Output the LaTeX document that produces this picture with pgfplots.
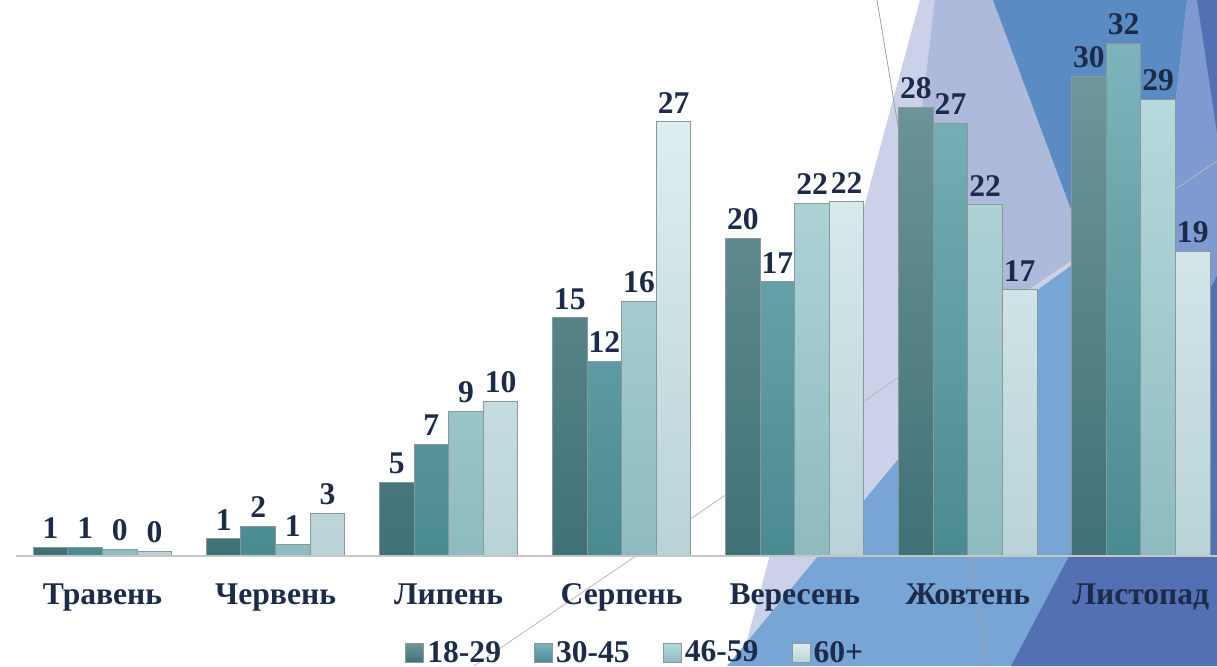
\documentclass[border=0pt]{standalone}
\usepackage{pgfplots}
\pgfplotsset{compat=1.18}
\usepackage{fontspec}
\setmainfont{Liberation Serif}

\definecolor{txt}{HTML}{1D2B4A}
\definecolor{edge}{HTML}{8C979A}
\definecolor{s1t}{HTML}{6E969B}\definecolor{s1b}{HTML}{3F7176}
\definecolor{s2t}{HTML}{7DB4BB}\definecolor{s2b}{HTML}{4A8A91}
\definecolor{s3t}{HTML}{B6D9DD}\definecolor{s3b}{HTML}{8DBBC0}
\definecolor{s4t}{HTML}{DDEEF0}\definecolor{s4b}{HTML}{B8D3D7}
% background shapes of the slide
\definecolor{bgLL}{HTML}{CAD1E8}
\definecolor{bgML}{HTML}{AEBADC}
\definecolor{bgLB}{HTML}{78A5D6}
\definecolor{bgB}{HTML}{5A8BC3}
\definecolor{bgLV}{HTML}{7E9AD0}
\definecolor{bgDV}{HTML}{5470B5}

\newcommand\lab{\fontsize{15.8}{18}\selectfont\bfseries}

\begin{document}
\begin{tikzpicture}
\useasboundingbox (0,0) rectangle (608.5pt,333pt);
\begin{scope}[x=0.5pt,y=0.5pt]
\fill[bgLL] (920,666) -- (1217,666) -- (1217,0) -- (740,0) -- cycle;
\fill[bgML] (935,666) -- (1217,666) -- (1217,505) -- (1000,358) -- (905,416) -- cycle;
\fill[bgLB] (727,0) -- (1040,378) -- (1217,505) -- (1217,0) -- cycle;
\fill[bgB] (993,666) -- (1187,666) -- (1142,266) -- cycle;
\fill[bgLV] (1187,666) -- (1217,666) -- (1217,0) -- (1142,266) -- cycle;
\fill[bgDV] (1197,666) -- (1217,666) -- (1217,533) -- cycle;
\fill[bgDV] (1011,0) -- (1217,0) -- (1217,390) -- cycle;
\draw[gray!75, line width=0.4pt] (877,666) -- (988,0);
\draw[gray!55, line width=0.4pt] (474,0) -- (1217,505);
\end{scope}

\begin{axis}[
  at={(8pt,55pt)}, anchor=south west,
  scale only axis, width=600.5pt, height=278pt,
  xmin=-0.5, xmax=6.44, ymin=0, ymax=34.69,
  ybar=0pt, bar width=0.2,
  axis line style={draw=none}, tick style={draw=none},
  ytick=\empty, xtick={0,...,6},
  xticklabels={Травень,Червень,Липень,Серпень,Вересень,Жовтень,Листопад},
  xticklabel style={anchor=base, yshift=-20pt, font=\lab, text=txt},
  point meta=explicit symbolic,
  nodes near coords,
  nodes near coords style={inner sep=0pt, yshift=4pt, font=\lab, text=txt},
  clip=false,
  legend columns=-1,
  legend style={at={(0.516,-0.1745)}, anchor=center, draw=none, fill=none,
    font=\lab, text=txt, inner sep=0pt, nodes={inner sep=1.5pt},
    /tikz/every even column/.append style={column sep=15pt}},
  legend image code/.code={\draw[#1] (0pt,-4.7pt) rectangle (9pt,4.7pt);},
]
\addplot[draw=edge, line width=0.5pt, top color=s1t, bottom color=s1b]
  coordinates {(0,0.56)[1] (1,1.08)[1] (2,4.6)[5] (3,14.85)[15] (4,19.8)[20] (5,28.0)[28] (6,29.9)[30]};
\addplot[draw=edge, line width=0.5pt, top color=s2t, bottom color=s2b]
  coordinates {(0,0.56)[1] (1,1.87)[2] (2,6.97)[7] (3,12.16)[12] (4,17.1)[17] (5,27.0)[27] (6,32.0)[32]};
\addplot[draw=edge, line width=0.5pt, top color=s3t, bottom color=s3b]
  coordinates {(0,0.4)[0] (1,0.69)[1] (2,9.0)[9] (3,15.9)[16] (4,22.0)[22] (5,21.9)[22] (6,28.5)[29]};
\addplot[draw=edge, line width=0.5pt, top color=s4t, bottom color=s4b]
  coordinates {(0,0.29)[0] (1,2.66)[3] (2,9.67)[10] (3,27.1)[27] (4,22.1)[22] (5,16.6)[17] (6,19.0)[19]};
\legend{18-29,30-45,46-59,60+}
\draw[gray!45, line width=1pt] (axis cs:-0.5,0) -- (axis cs:6.44,0);
\end{axis}
\end{tikzpicture}
\end{document}
